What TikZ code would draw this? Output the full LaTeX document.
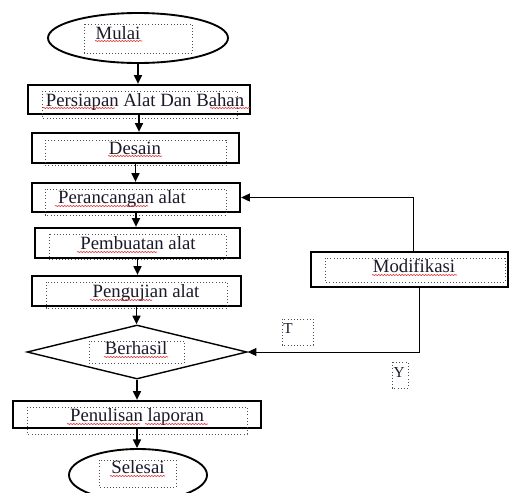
\documentclass[tikz,border=0pt]{standalone}
\usepackage{fontspec}
\setmainfont{Liberation Serif}
\usetikzlibrary{arrows.meta, shapes.geometric, calc, decorations.pathmorphing}
\definecolor{inkblk}{HTML}{1A1A2A}
\definecolor{frmgray}{HTML}{505050}
\definecolor{spellred}{HTML}{E03030}

\begin{document}
\begin{tikzpicture}[x=0.03cm, y=-0.03cm,
  procbox/.style={draw=black, line width=2pt, rectangle, inner sep=0pt},
  termnode/.style={draw=black, line width=1.6pt, ellipse, inner sep=0pt},
  decnode/.style={draw=black, line width=1.2pt, diamond, inner sep=0pt},
  lbl/.style={text=inkblk, font=\fontsize{16}{18}\selectfont, inner sep=0pt, anchor=base},
  smlbl/.style={text=inkblk, font=\fontsize{13}{15}\selectfont, inner sep=0pt, anchor=base},
  txtframe/.style={draw=frmgray, dotted, line width=0.7pt},
  flow/.style={-{Triangle[length=2.6mm, width=2.4mm]}, line width=1.2pt},
  back/.style={-{Triangle[length=2.6mm, width=2.4mm]}, line width=0.8pt},
  spell/.style={spellred, line width=0.5pt, decorate,
    decoration={snake, amplitude=0.5pt, segment length=2.5pt}}]

% Background
\useasboundingbox (0,0) rectangle (510,492);
\clip (0,0) rectangle (510,492);
\fill[white] (0,0) rectangle (510,492);

% Shapes
\node[termnode, minimum width=5.4cm, minimum height=1.5cm] (mulai) at (138,38) {};
\node[procbox, minimum width=6.66cm, minimum height=0.87cm] (persiapan) at (139,99.5) {};
\node[procbox, minimum width=6.21cm, minimum height=0.9cm] (desain) at (135.5,148) {};
\node[procbox, minimum width=6.24cm, minimum height=0.87cm] (perancangan) at (136,197.5) {};
\node[procbox, minimum width=6.15cm, minimum height=0.9cm] (pembuatan) at (137.5,243) {};
\node[procbox, minimum width=6.27cm, minimum height=0.9cm] (pengujian) at (136.5,291) {};
\node[decnode, minimum width=6.6cm, minimum height=1.62cm] (berhasil) at (137,352) {};
\node[procbox, minimum width=7.44cm, minimum height=0.81cm] (penulisan) at (137,414.5) {};
\node[termnode, minimum width=4.14cm, minimum height=1.56cm] (selesai) at (138,475) {};
\node[procbox, minimum width=5.91cm, minimum height=1.05cm] (modifikasi) at (409.5,269.5) {};

% Text box frames
\draw[txtframe] (84,24) rectangle (192,53);
\draw[txtframe] (42,91) rectangle (237,118);
\draw[txtframe] (45,140) rectangle (226,165);
\draw[txtframe] (45,189) rectangle (226,215);
\draw[txtframe] (49,234) rectangle (226,259);
\draw[txtframe] (46,282) rectangle (227,308);
\draw[txtframe] (89,341) rectangle (184,363);
\draw[txtframe] (27,407) rectangle (247,434);
\draw[txtframe] (99,460) rectangle (176,487);
\draw[txtframe] (325,258) rectangle (505,282);
\draw[txtframe] (282,319) rectangle (313,345);
\draw[txtframe] (392,362) rectangle (408,388);

% Labels
\node[lbl] (tmulai) at (118,39) {Mulai};
\node[lbl] (tpersiapan) at (145,106) {Persiapan Alat Dan Bahan};
\node[lbl] (tdesain) at (135,154) {Desain};
\node[lbl] (tperancangan) at (122,203) {Perancangan alat};
\node[lbl] (tpembuatan) at (138,249) {Pembuatan alat};
\node[lbl] (tpengujian) at (146,297) {Pengujian alat};
\node[lbl] (tberhasil) at (136,354) {Berhasil};
\node[lbl] (tpenulisan) at (137,421) {Penulisan laporan};
\node[lbl] (tselesai) at (138,473) {Selesai};
\node[lbl] (tmodifikasi) at (414,272) {Modifikasi};
\node[smlbl] (tT) at (288,333) {T};
\node[smlbl] (tY) at (399,377) {Y};

% Spelling marks
\foreach \xa/\xb/\yy in {95/142/41, 43/115/108, 210/250/108, 108/162/156,
    55/148/206, 77/157/252, 90/152/300, 104/168/357, 67/140/424, 145/208/424,
    110/165/476, 372/457/275}
  \draw[spell] (\xa,\yy) -- (\xb,\yy);

% Main flow
\foreach \a/\b in {mulai/persiapan, persiapan/desain, desain/perancangan,
    perancangan/pembuatan, pembuatan/pengujian, pengujian/berhasil,
    berhasil/penulisan, penulisan/selesai}
  \draw[flow] (\a.south) -- (\a.south |- \b.north);

% Modifikasi loops
\draw[back] ($(modifikasi.north)+(4,0)$) |- (perancangan.east);
\draw[back] ($(modifikasi.south)+(10,0)$) |- (berhasil.east);

\end{tikzpicture}
\end{document}
